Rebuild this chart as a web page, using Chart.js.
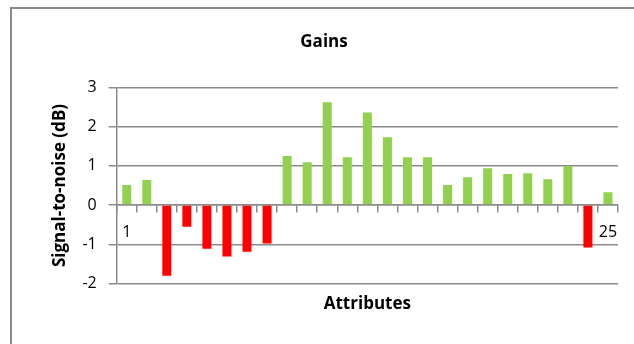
<!DOCTYPE html>
<html>
<head>
<meta charset="utf-8">
<script src="https://cdn.jsdelivr.net/npm/chart.js@4/dist/chart.umd.min.js"></script>
<style>
  html, body { margin: 0; padding: 0; background: #fff; }
  #wrap { position: relative; width: 634px; height: 344px; overflow: hidden; }
  #frame { position: absolute; left: 10px; top: 7px; width: 700px; height: 400px;
           border-left: 2px solid #8a8a8a; border-top: 2px solid #8a8a8a; }
  canvas { position: absolute; left: 0; top: 0; }
</style>
</head>
<body>
<div id="wrap">
  <div id="frame"></div>
  <canvas id="gains" width="634" height="344"></canvas>
</div>
<script>
const attributes = ['1','2','3','4','5','6','7','8','9','10','11','12','13',
  '14','15','16','17','18','19','20','21','22','23','24','25'];
const gains = [0.51, 0.64, -1.80, -0.55, -1.11, -1.31, -1.19, -0.98, 1.25, 1.09,
  2.62, 1.22, 2.36, 1.73, 1.22, 1.22, 0.51, 0.71, 0.94, 0.79, 0.81, 0.66, 0.99, -1.08, 0.33];
const yTicks = [-2, -1, 0, 1, 2, 3];

const green = '#92d050';
const red = '#ff0000';
const grey = '#8a8a8a';
const fontFamily = '"Open Sans", Lato, sans-serif';

Chart.defaults.font.family = fontFamily;
Chart.defaults.color = '#000';

const ctx = document.getElementById('gains').getContext('2d');
new Chart(ctx, {
  type: 'bar',
  data: {
    labels: attributes,
    datasets: [{
      label: 'Gains',
      data: gains,
      backgroundColor: gains.map(v => v < 0 ? red : green),
      barPercentage: 0.5,
      categoryPercentage: 0.9
    }]
  },
  options: {
    responsive: false,
    animation: false,
    layout: { padding: { left: 30, right: 16, top: 0, bottom: 30 } },
    plugins: {
      legend: { display: false },
      tooltip: { enabled: false },
      title: {
        display: true,
        text: 'Gains',
        font: { size: 17, weight: 'bold' },
        color: '#000',
        padding: { top: 32, bottom: 35 }
      }
    },
    scales: {
      x: {
        position: { y: 0 },
        grid: { drawOnChartArea: false, drawTicks: true, tickLength: 7, color: grey, lineWidth: 1.5 },
        border: { color: grey, width: 1.5 },
        ticks: {
          autoSkip: false,
          maxRotation: 0,
          padding: 11,
          font: { size: 16 },
          callback: (v, i) => (i === 0 || i === attributes.length - 1) ? attributes[i] : ''
        }
      },
      x2: {
        type: 'category',
        labels: attributes,
        position: 'bottom',
        grid: { display: false },
        border: { display: false },
        ticks: { display: false },
        title: {
          display: true,
          text: 'Attributes',
          font: { size: 17, weight: 'bold' },
          color: '#000',
          padding: { top: 2, bottom: 0 }
        }
      },
      y: {
        min: -2,
        max: 3,
        afterBuildTicks: axis => { axis.ticks = yTicks.map(v => ({ value: v })); },
        grid: { color: grey, lineWidth: 1.5, tickLength: 8 },
        border: { color: grey, width: 1.5 },
        ticks: { padding: 12, font: { size: 16 } },
        title: {
          display: true,
          text: 'Signal-to-noise (dB)',
          font: { size: 17, weight: 'bold' },
          color: '#000',
          padding: { top: 20, bottom: 0 }
        }
      }
    }
  }
});
</script>
</body>
</html>
